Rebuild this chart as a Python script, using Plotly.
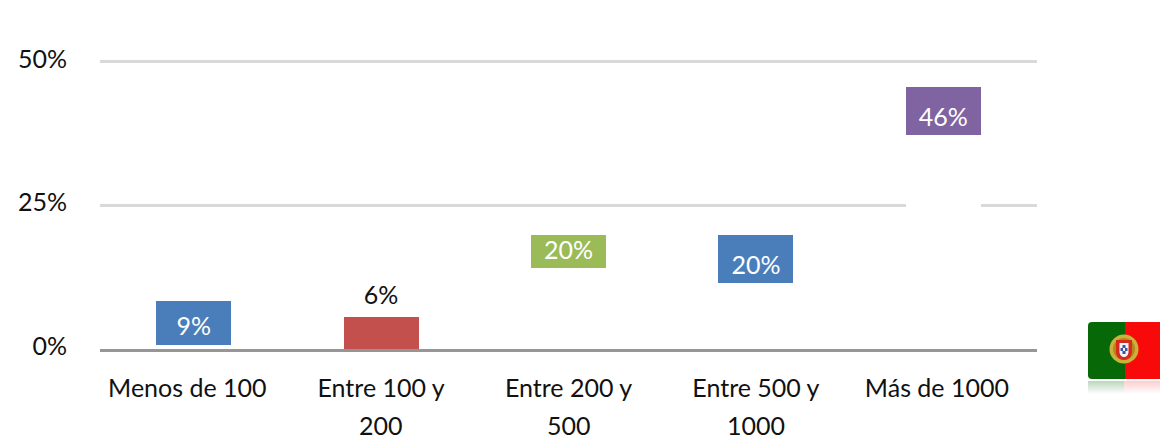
import base64
import plotly.graph_objects as go

categories = ["Menos de 100", "Entre 100 y 200", "Entre 200 y 500", "Entre 500 y 1000", "Más de 1000"]
tick_line1 = ["Menos de 100\u00a0\u00a0", "Entre 100 y", "Entre 200 y", "Entre 500 y", "Más de 1000\u00a0\u00a0"]
tick_line2 = ["", "200", "500", "1000", ""]
blank_below = [0.7, 0.0, 14.1, 11.5, 37.28]
visible_part = [7.66, 5.57, 5.75, 8.36, 8.36]
bar_colors = ["#4A7EBB", "#C4504E", "#9BBB59", "#4A7EBB", "#8064A2"]
labels = ["9%", "6%", "20%", "20%", "46%"]
label_y = [3.57, 8.97, 16.8, 14.2, 39.98]
label_colors = ["white", "#111111", "white", "white", "white"]
y_ticks = [0, 25, 50]
y_ticktext = ["0%", "25%", "50%"]

FONT = "Lato"
FS = 25

flag_svg = """<svg xmlns="http://www.w3.org/2000/svg" width="72" height="72" viewBox="0 0 72 72">
<defs>
<linearGradient id="f" x1="0" y1="0" x2="0" y2="1"><stop offset="0" stop-color="#fff" stop-opacity="0.55"/><stop offset="1" stop-color="#fff" stop-opacity="1"/></linearGradient>
<clipPath id="c"><path d="M4 0H72V57H4a4 4 0 0 1-4-4V4a4 4 0 0 1 4-4z"/></clipPath>
<filter id="b"><feGaussianBlur stdDeviation="0.6"/></filter>
</defs>
<g clip-path="url(#c)">
<rect width="37" height="57" fill="#066806"/><rect x="37" width="35" height="57" fill="#F80A0A"/>
<g filter="url(#b)">
<circle cx="36" cy="27" r="14.500" fill="#C9B23A"/>
<circle cx="36" cy="27" r="11" fill="#B8861E"/>
<path d="M28 18H44V30C44 35 40 38 36 38C32 38 28 35 28 30Z" fill="#D62A1E"/>
<path d="M31.500 21H40.500V30C40.500 33 38 35 36 35C34 35 31.500 33 31.500 30Z" fill="#F4F4F4"/>
<rect x="34.500" y="23" width="3" height="3" fill="#3A52A8"/><rect x="34.500" y="29" width="3" height="3" fill="#3A52A8"/>
<rect x="32.500" y="26" width="2.500" height="3" fill="#3A52A8"/><rect x="37" y="26" width="2.500" height="3" fill="#3A52A8"/>
</g>
</g>
<g transform="translate(0,59)">
<rect x="0" width="36" height="13" fill="#066806" opacity="0.6"/><rect x="36" width="36" height="13" fill="#F80A0A" opacity="0.45"/>
<rect width="72" height="13" fill="url(#f)"/>
</g>
</svg>"""
flag_uri = "data:image/svg+xml;base64," + base64.b64encode(flag_svg.encode()).decode()

fig = go.Figure()
fig.add_bar(x=categories, y=blank_below, marker=dict(color="white", line_width=0), hoverinfo="skip", showlegend=False)
fig.add_bar(x=categories, y=visible_part, marker=dict(color=bar_colors, line_width=0), showlegend=False)
fig.add_scatter(x=categories, y=label_y, mode="text", text=labels,
                textfont=dict(family=FONT, size=FS, color=label_colors), textposition="middle center",
                showlegend=False, cliponaxis=False)

PLOT_BOTTOM = 349
PLOT_H = 292
annotations = [
    dict(x=c, xref="x", y=(PLOT_BOTTOM - 425) / PLOT_H, yref="paper", yanchor="middle", xanchor="center", text=t,
         showarrow=False, font=dict(family=FONT, size=FS, color="#111111"))
    for c, t in zip(categories, tick_line2) if t
]

fig.update_layout(
    width=1160, height=437, margin=dict(l=100, r=123, t=57, b=88, autoexpand=False),
    paper_bgcolor="white", plot_bgcolor="white", barmode="stack", bargap=0.6,
    font=dict(family=FONT, size=FS, color="#111111"),
    annotations=annotations,
    xaxis=dict(categoryorder="array", categoryarray=categories, tickmode="array", tickvals=categories,
               ticktext=tick_line1, showgrid=False, showline=True, linecolor="#969696", linewidth=3,
               ticks="", ticklabelstandoff=15, zeroline=False),
    yaxis=dict(range=[0, 50.87], tickvals=y_ticks, ticktext=y_ticktext, showgrid=True, gridcolor="#D9D9D9", gridwidth=3,
               zeroline=False, showline=False, ticks="", ticklabelstandoff=32, ticklabelshift=-3),
    images=[dict(source=flag_uri, xref="paper", yref="paper", x=(1088 - 100) / 937, y=(PLOT_BOTTOM - 322) / PLOT_H,
                 sizex=72 / 937, sizey=72 / PLOT_H, xanchor="left", yanchor="top", sizing="stretch", layer="above")],
)
fig.write_html("out.html", config=dict(displayModeBar=False),
               post_script="document.body.style.margin='0';document.documentElement.style.overflow='hidden';")
